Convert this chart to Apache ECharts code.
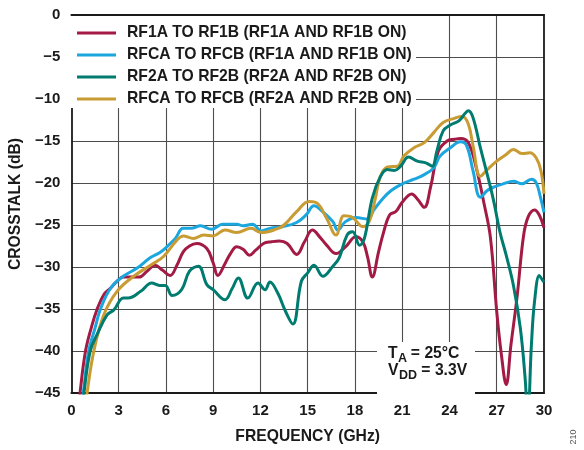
<!DOCTYPE html>
<html>
<head>
<meta charset="utf-8">
<script src="https://cdn.jsdelivr.net/npm/echarts@6/dist/echarts.min.js"></script>
<style>
html,body{margin:0;padding:0;background:#fff;}
#chart{width:584px;height:450px;}
</style>
</head>
<body>
<div id="chart"></div>
<script>
// ---------- DATA ----------
const seriesNames = [
  'RF1A TO RF1B (RF1A AND RF1B ON)',
  'RFCA TO RFCB (RF1A AND RF1B ON)',
  'RF2A TO RF2B (RF2A AND RF2B ON)',
  'RFCA TO RFCB (RF2A AND RF2B ON)'
];
const seriesColors = ['#A31A44', '#1BA6DE', '#007B6F', '#C99B33'];

const rf1Freq = [0.45,0.55,0.9,1.3,1.64,2.06,2.5,2.9,3.3,3.75,4.3,4.8,5.3,5.8,6.27,6.7,7.1,7.5,7.96,8.6,9.0,9.3,9.7,10.1,10.5,10.9,11.3,11.7,12.2,12.7,13.2,13.7,14.3,14.8,15.3,15.8,16.2,16.8,17.4,18.06,18.5,18.8,19.1,19.5,19.8,20.2,20.6,21.0,21.6,22.0,22.4,22.8,23.3,23.85,24.3,24.7,25.2,25.7,26.2,26.6,27.0,27.3,27.6,27.9,28.3,28.7,29.0,29.4,29.7,30.0];
const rf1Db   = [-47,-45,-40,-37,-35,-33.3,-32.5,-31.7,-31.2,-31.2,-31.2,-30.5,-29.8,-30.4,-31.0,-29.8,-28.2,-27.5,-27.2,-27.8,-29.5,-31.0,-29.8,-28.4,-27.6,-27.9,-28.6,-28.0,-27.2,-27.0,-26.9,-27.2,-28.5,-27.0,-25.6,-26.5,-27.4,-28.4,-27.6,-26.4,-27.0,-28.8,-31.2,-28.2,-26.0,-23.8,-23.4,-22.3,-21.3,-22.0,-22.9,-20.5,-16.2,-15.0,-14.8,-14.7,-15.2,-18.2,-22.5,-26.5,-35.3,-40.5,-44.0,-39.3,-33.4,-26.3,-24.0,-23.2,-23.8,-25.3];

const rfc1Freq = [0.65,0.76,1.1,1.5,1.85,2.5,3.3,4.2,5.0,5.6,6.06,6.6,7.1,7.6,8.2,8.9,9.6,10.5,10.9,11.5,12.06,12.6,13.4,14.3,14.9,15.4,15.95,16.6,16.9,17.4,18.06,18.8,19.2,19.75,20.3,21.0,21.75,22.4,23.0,23.4,24.06,24.7,25.1,25.5,25.96,26.4,26.8,27.4,28.06,28.6,29.2,29.5,29.75,30.0];
const rfc1Db   = [-47,-45,-40,-37.3,-35,-32.5,-31.1,-30.1,-28.9,-28.3,-27.6,-26.6,-25.4,-25.4,-25.1,-25.5,-24.9,-24.9,-25.1,-24.9,-25.7,-25.4,-25.2,-24.7,-23.8,-22.7,-23.4,-24.6,-25.6,-24.6,-24.1,-24.3,-23.2,-21.9,-20.9,-20.1,-19.55,-19.0,-18.2,-16.8,-15.8,-15.1,-15.6,-18.6,-21.7,-20.9,-20.5,-20.1,-19.8,-20.1,-19.55,-19.95,-21.5,-23.5];

const rf2Freq = [0.7,0.8,1.2,1.64,2.27,2.7,3.3,3.6,4.4,5.1,5.6,5.96,6.4,7.0,7.5,8.06,8.6,9.0,9.75,10.2,10.6,11.2,11.85,12.3,12.6,13.1,13.6,14.06,14.6,15.0,15.4,15.96,16.6,17.0,17.5,17.85,18.3,18.6,19.1,19.6,20.06,20.5,20.9,21.4,21.96,22.5,22.9,23.2,23.6,24.06,24.6,25.0,25.2,25.5,25.96,26.4,26.8,27.2,27.6,28.06,28.5,28.8,28.97,29.2,29.4,29.7,29.85,30.0];
const rf2Db   = [-47,-45,-40,-38,-35.7,-35.1,-33.7,-33.7,-32.9,-31.9,-32.2,-32.2,-33.4,-32.7,-30.5,-29.9,-32.1,-32.7,-33.9,-32.6,-31.3,-33.7,-31.9,-32.7,-31.8,-33.1,-35.3,-36.8,-31.7,-30.7,-29.8,-31.1,-29.9,-28.9,-26.2,-25.8,-27.4,-26.6,-21.8,-19.3,-18.4,-18.5,-18.0,-16.9,-17.4,-17.6,-18.0,-16.2,-13.8,-13.1,-12.6,-11.7,-11.4,-12.25,-15.8,-19.0,-22.1,-25.8,-28.6,-32.2,-37.3,-43.2,-48,-39.3,-34.1,-31.0,-31.4,-31.8];

const rfc2Freq = [0.9,1.0,1.43,2.06,2.9,3.96,5.1,5.85,6.7,7.1,7.75,8.4,9.0,9.75,10.5,11.4,12.06,13.0,13.5,14.3,15.1,15.6,16.2,16.8,17.3,17.85,18.5,18.9,19.3,19.6,20.06,20.7,21.1,21.75,22.4,23.0,23.6,24.3,24.8,25.2,25.5,25.96,26.4,27.0,27.6,28.06,28.6,29.1,29.5,29.8,30.0];
const rfc2Db   = [-47,-45,-40,-35.7,-32.9,-31.1,-29.7,-28.75,-26.8,-26.3,-26.6,-26.2,-26.3,-25.6,-25.9,-25.4,-25.9,-25.5,-25.0,-23.4,-22.2,-22.4,-24.2,-26.2,-23.9,-24.1,-25.2,-24.6,-21.8,-19.3,-18.1,-18.0,-16.8,-15.8,-15.2,-14.0,-12.8,-12.3,-12.05,-13.0,-15.6,-19.2,-18.4,-17.4,-16.6,-16.0,-16.5,-16.4,-17.0,-18.5,-21.3];

const xAxisTitle = 'FREQUENCY (GHz)';
const yAxisTitle = 'CROSSTALK (dB)';

// ---------- CHART ----------
const FONT = '"Liberation Sans", Arial, Helvetica, sans-serif';
const zip = (xs, ys) => xs.map((x, i) => [x, ys[i]]);
const allData = [
  zip(rf1Freq, rf1Db),
  zip(rfc1Freq, rfc1Db),
  zip(rf2Freq, rf2Db),
  zip(rfc2Freq, rfc2Db)
];

const chart = echarts.init(document.getElementById('chart'), null, {renderer: 'canvas'});

const G = {left: 69, right: 40, top: 15, bottom: 55};
const frameLine = {show: true, onZero: false, lineStyle: {color: '#1a1a1a', width: 1.8}};
const gridLine = {show: true, showMinLine: false, showMaxLine: false, lineStyle: {color: '#4d4d4d', width: 1.1}};
const tickFont = {fontFamily: FONT, fontWeight: 'bold', fontSize: 15, color: '#1a1a1a'};
const nameFont = {fontFamily: FONT, fontWeight: 'bold', fontSize: 15.7, color: '#1a1a1a'};

const option = {
  animation: false,
  backgroundColor: '#ffffff',
  grid: {left: G.left, right: G.right, top: G.top, bottom: G.bottom},
  legend: {
    data: seriesNames,
    orient: 'vertical',
    left: 70,
    top: 16,
    padding: [8, 4, 2, 7],
    icon: 'rect',
    itemWidth: 39,
    itemHeight: 3,
    itemGap: 4,
    textStyle: Object.assign({lineHeight: 18, padding: [0, 0, 0, 6]}, nameFont)
  },
  xAxis: [{
    type: 'value', min: 0, max: 30, interval: 3,
    name: xAxisTitle, nameLocation: 'middle', nameGap: 36,
    nameTextStyle: nameFont,
    axisLine: frameLine,
    axisTick: {show: false},
    axisLabel: Object.assign({margin: 10}, tickFont),
    splitLine: gridLine
  }, {
    type: 'value', min: 0, max: 30, interval: 3, position: 'top',
    axisLine: frameLine, axisTick: {show: false}, axisLabel: {show: false}, splitLine: {show: false}
  }],
  yAxis: [{
    type: 'value', min: -45, max: 0, interval: 5,
    name: yAxisTitle, nameLocation: 'middle', nameGap: 37, nameRotate: 90,
    nameTextStyle: nameFont,
    axisLine: frameLine,
    axisTick: {show: false},
    axisLabel: Object.assign({margin: 11, formatter: v => v < 0 ? '\u2212' + Math.abs(v) : String(v)}, tickFont),
    splitLine: gridLine
  }, {
    type: 'value', min: -45, max: 0, interval: 5, position: 'right',
    axisLine: frameLine, axisTick: {show: false}, axisLabel: {show: false}, splitLine: {show: false}
  }],
  series: seriesNames.map((name, i) => ({
    name: name,
    type: 'line',
    data: allData[i],
    showSymbol: false,
    symbol: 'none',
    smooth: 0.4,
    clip: true,
    lineStyle: {color: seriesColors[i], width: 3},
    itemStyle: {color: seriesColors[i]},
    z: 2 + (i === 2 ? 1 : 0)
  })),
  graphic: [
    {type: 'rect', z: 1, silent: true, shape: {x: 70, y: 16, width: 346, height: 92}, style: {fill: '#ffffff'}},
    {type: 'rect', z: 1, silent: true, shape: {x: 377, y: 342, width: 98, height: 52}, style: {fill: '#ffffff'}},
    {type: 'text', z: 6, x: 388, y: 354, style: {text: 'T', font: 'bold 15.7px ' + FONT, fill: '#1a1a1a', verticalAlign: 'middle'}},
    {type: 'text', z: 6, x: 398, y: 358.5, style: {text: 'A', font: 'bold 12.5px ' + FONT, fill: '#1a1a1a', verticalAlign: 'middle'}},
    {type: 'text', z: 6, x: 406.5, y: 354, style: {text: ' = 25°C', font: 'bold 15.7px ' + FONT, fill: '#1a1a1a', verticalAlign: 'middle'}},
    {type: 'text', z: 6, x: 388, y: 371, style: {text: 'V', font: 'bold 15.7px ' + FONT, fill: '#1a1a1a', verticalAlign: 'middle'}},
    {type: 'text', z: 6, x: 399, y: 375.5, style: {text: 'DD', font: 'bold 12.5px ' + FONT, fill: '#1a1a1a', verticalAlign: 'middle'}},
    {type: 'text', z: 6, x: 417, y: 371, style: {text: ' = 3.3V', font: 'bold 15.7px ' + FONT, fill: '#1a1a1a', verticalAlign: 'middle'}},
    {type: 'text', z: 6, x: 574, y: 437, rotation: Math.PI / 2, style: {text: '210', font: '9px ' + FONT, fill: '#555555', align: 'center', verticalAlign: 'middle'}}
  ]
};
chart.setOption(option);
</script>
</body>
</html>
